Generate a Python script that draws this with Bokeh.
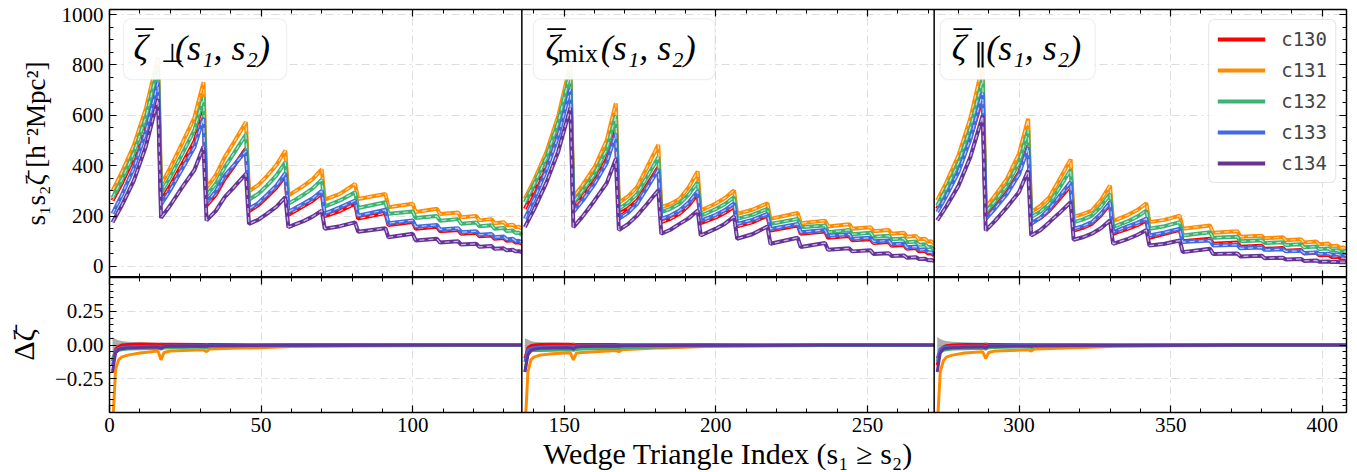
from bokeh.plotting import figure
from bokeh.models import (Range1d, LinearAxis, FixedTicker, Span, Label, Legend,
                          LegendItem, Grid, BoxAnnotation)
from bokeh.layouts import column
from bokeh.embed import file_html
from bokeh.resources import INLINE

SERIF = "Liberation Serif"
NAMES = ["c130", "c131", "c132", "c133", "c134"]
COLORS = ["#ff0000", "#ff8c00", "#3cb371", "#4169e1", "#663399"]

# key wedge-triangle indices inside one panel
KEY_X = [1, 4, 8, 12, 16, 17, 20, 24, 28, 31, 32, 35, 38, 41, 45, 46, 49, 52, 55, 58,
         59, 61, 64, 67, 70, 71, 76, 81, 82, 91, 92, 100, 101, 108, 109, 115, 116, 121,
         122, 126, 127, 130, 131, 133, 134, 135, 136]
PANEL_OFFSET = [0, 136, 272]

# ---- zeta_perp ----
PERP_C130 = [262, 329, 430, 562, 745, 262, 320, 407, 496, 619, 242, 284, 348, 398, 468,
             220, 243, 277, 312, 361, 205, 219, 240, 261, 290, 200, 220, 249,
             190, 212, 165, 177, 150, 158, 140, 145, 130, 134, 120, 123, 110, 113, 102, 104, 95, 96, 90]
PERP_C131 = [300, 372, 480, 627, 830, 325, 391, 490, 591, 731, 312, 361, 434, 492, 573,
             298, 323, 360, 402, 460, 282, 297, 320, 347, 385, 265, 288, 328,
             268, 288, 235, 249, 216, 229, 208, 214, 195, 200, 183, 188, 172, 176, 163, 166, 156, 158, 150]
PERP_C132 = [272, 343, 450, 593, 790, 293, 355, 447, 542, 672, 282, 327, 394, 449, 524,
             265, 288, 322, 361, 414, 249, 263, 285, 310, 345, 238, 262, 295,
             232, 255, 209, 218, 192, 200, 182, 188, 170, 175, 160, 164, 150, 153, 141, 143, 133, 135, 125]
PERP_C133 = [210, 282, 390, 533, 731, 246, 303, 388, 473, 590, 255, 297, 361, 402, 458,
             229, 251, 285, 321, 370, 216, 230, 250, 271, 300, 210, 235, 262,
             202, 225, 172, 183, 158, 165, 147, 152, 136, 140, 126, 129, 116, 119, 108, 110, 101, 102, 96]
PERP_C134 = [175, 241, 340, 477, 665, 193, 242, 315, 383, 476, 183, 220, 275, 314, 368,
             169, 185, 210, 237, 275, 156, 166, 180, 198, 222, 150, 160, 175,
             138, 152, 116, 130, 103, 110, 95, 100, 87, 90, 78, 81, 70, 72, 64, 66, 60, 61, 57]
# ---- zeta_mix ----
MIX_C130 = [229, 301, 410, 542, 725, 236, 278, 341, 427, 546, 209, 230, 262, 317, 394,
            176, 189, 209, 242, 288, 172, 181, 195, 213, 238, 159, 175, 202,
            143, 163, 130, 139, 114, 121, 104, 108, 93, 97, 82, 85, 70, 73, 60, 62, 52, 53, 44]
MIX_C131 = [268, 341, 450, 597, 800, 275, 323, 394, 501, 648, 253, 278, 315, 386, 483,
            235, 248, 268, 314, 377, 222, 233, 250, 272, 302, 209, 225, 251,
            189, 212, 172, 182, 159, 168, 150, 156, 140, 145, 130, 134, 118, 121, 108, 110, 98, 100, 90]
MIX_C132 = [255, 325, 430, 573, 770, 255, 300, 368, 465, 599, 229, 253, 288, 349, 434,
            216, 229, 249, 285, 335, 202, 212, 228, 248, 275, 189, 205, 229,
            169, 189, 156, 163, 136, 145, 128, 134, 118, 122, 108, 111, 96, 99, 86, 88, 76, 78, 66]
MIX_C133 = [189, 265, 380, 517, 705, 216, 261, 328, 411, 526, 189, 213, 249, 306, 384,
            189, 202, 222, 254, 299, 182, 191, 205, 224, 251, 169, 185, 209,
            149, 169, 136, 145, 123, 128, 110, 114, 100, 103, 88, 91, 76, 79, 66, 68, 56, 57, 48]
MIX_C134 = [156, 226, 330, 456, 630, 156, 198, 262, 331, 427, 145, 168, 202, 244, 302,
            130, 146, 169, 191, 222, 123, 134, 150, 170, 198, 110, 128, 159,
            90, 114, 77, 93, 66, 72, 60, 64, 50, 53, 42, 44, 35, 37, 30, 31, 25, 26, 21]
# ---- zeta_par ----
PAR_C130 = [229, 295, 395, 511, 672, 196, 236, 295, 373, 480, 172, 192, 222, 264, 321,
            143, 153, 169, 203, 249, 130, 138, 150, 164, 183, 114, 130, 146,
            100, 110, 90, 95, 78, 82, 70, 73, 62, 65, 52, 55, 45, 47, 38, 39, 33, 34, 30]
PAR_C131 = [262, 333, 440, 591, 800, 235, 280, 348, 448, 586, 216, 240, 275, 338, 425,
            198, 208, 222, 264, 321, 180, 190, 205, 224, 251, 176, 185, 202,
            150, 163, 134, 140, 118, 122, 112, 116, 104, 108, 95, 99, 88, 91, 80, 82, 74, 75, 70]
PAR_C132 = [242, 309, 410, 551, 745, 216, 258, 321, 413, 540, 196, 217, 249, 306, 384,
            176, 186, 202, 238, 288, 156, 166, 180, 198, 222, 150, 160, 176,
            123, 136, 114, 118, 100, 104, 93, 96, 85, 88, 76, 79, 69, 71, 63, 64, 59, 60, 57]
PAR_C133 = [216, 280, 375, 507, 690, 189, 229, 288, 366, 473, 169, 193, 229, 274, 335,
            149, 160, 176, 209, 255, 136, 146, 160, 173, 190, 123, 135, 150,
            97, 103, 83, 86, 72, 75, 66, 68, 60, 62, 54, 56, 50, 51, 47, 48, 45, 45, 44]
PAR_C134 = [183, 238, 320, 437, 599, 143, 180, 235, 296, 381, 123, 144, 176, 209, 255,
            106, 116, 130, 152, 183, 90, 98, 110, 125, 145, 83, 90, 103,
            57, 70, 50, 52, 40, 43, 33, 35, 28, 30, 22, 24, 19, 20, 18, 18, 17, 17, 17]

# ---- residuals (bottom panel) ----
RES_X = [1, 2, 3, 4, 6, 10, 16, 17, 18, 20, 31, 32, 33, 46, 47, 60, 80, 100, 136]
R1_C130 = [-0.12, -0.03, -0.01, 0.0, 0.004, 0.007, 0.006, 0.002, 0.005, 0.005, 0.004, 0.002, 0.003, 0.002, 0.002, 0.001, 0.001, 0.0, 0.0]
R1_C131 = [-0.62, -0.18, -0.11, -0.09, -0.075, -0.06, -0.045, -0.11, -0.055, -0.045, -0.035, -0.05, -0.03, -0.02, -0.022, -0.012, -0.008, -0.005, -0.002]
R1_C132 = [-0.10, -0.05, -0.04, -0.035, -0.03, -0.028, -0.025, -0.03, -0.022, -0.02, -0.015, -0.02, -0.013, -0.01, -0.01, -0.006, -0.004, -0.002, -0.001]
R1_C133 = [-0.15, -0.04, -0.025, -0.02, -0.015, -0.012, -0.01, -0.015, -0.008, -0.007, -0.005, -0.007, -0.004, -0.003, -0.003, -0.002, -0.001, 0.0, 0.0]
R1_C134 = [-0.20, -0.06, -0.035, -0.028, -0.022, -0.018, -0.015, -0.025, -0.012, -0.01, -0.008, -0.01, -0.006, -0.004, -0.004, -0.002, -0.001, 0.0, 0.0]
BAND1 = [0.06, 0.045, 0.035, 0.03, 0.025, 0.02, 0.015, 0.022, 0.015, 0.012, 0.01, 0.014, 0.009, 0.007, 0.008, 0.005, 0.004, 0.003, 0.002]
R2_C130 = [-0.10, -0.02, -0.005, 0.0, 0.003, 0.006, 0.005, 0.0, 0.004, 0.004, 0.003, 0.001, 0.002, 0.001, 0.001, 0.001, 0.0, 0.0, 0.0]
R2_C131 = [-0.65, -0.20, -0.11, -0.09, -0.075, -0.065, -0.058, -0.11, -0.06, -0.055, -0.04, -0.05, -0.035, -0.02, -0.022, -0.012, -0.006, -0.004, -0.002]
R2_C132 = [-0.20, -0.05, -0.045, -0.04, -0.04, -0.038, -0.035, -0.04, -0.033, -0.03, -0.025, -0.028, -0.02, -0.015, -0.015, -0.008, -0.005, -0.003, -0.001]
R2_C133 = [-0.125, -0.035, -0.025, -0.02, -0.015, -0.012, -0.01, -0.015, -0.008, -0.007, -0.005, -0.007, -0.004, -0.003, -0.003, -0.002, -0.001, 0.0, 0.0]
R2_C134 = [-0.20, -0.075, -0.04, -0.032, -0.025, -0.022, -0.02, -0.03, -0.015, -0.012, -0.008, -0.01, -0.006, -0.004, -0.004, -0.002, -0.001, 0.0, 0.0]
BAND2 = [0.05, 0.04, 0.03, 0.025, 0.02, 0.018, 0.014, 0.02, 0.013, 0.011, 0.009, 0.012, 0.008, 0.006, 0.007, 0.005, 0.004, 0.003, 0.002]
R3_C130 = [-0.15, -0.04, -0.015, -0.005, 0.0, 0.004, 0.004, 0.0, 0.003, 0.003, 0.002, 0.001, 0.002, 0.001, 0.001, 0.0, 0.0, 0.0, 0.0]
R3_C131 = [-0.62, -0.20, -0.12, -0.09, -0.075, -0.06, -0.05, -0.10, -0.055, -0.045, -0.035, -0.045, -0.03, -0.02, -0.02, -0.01, -0.006, -0.004, -0.002]
R3_C132 = [-0.12, -0.05, -0.04, -0.035, -0.03, -0.027, -0.024, -0.03, -0.02, -0.018, -0.014, -0.018, -0.012, -0.009, -0.009, -0.005, -0.003, -0.002, -0.001]
R3_C133 = [-0.10, -0.03, -0.02, -0.015, -0.012, -0.01, -0.008, -0.012, -0.006, -0.005, -0.004, -0.005, -0.003, -0.002, -0.002, -0.001, 0.0, 0.0, 0.0]
R3_C134 = [-0.20, -0.06, -0.03, -0.025, -0.02, -0.017, -0.014, -0.022, -0.01, -0.009, -0.007, -0.009, -0.005, -0.003, -0.003, -0.002, -0.001, 0.0, 0.0]
BAND3 = [0.06, 0.045, 0.035, 0.03, 0.025, 0.02, 0.016, 0.022, 0.015, 0.012, 0.01, 0.013, 0.009, 0.007, 0.008, 0.005, 0.004, 0.003, 0.002]

TOP_PANELS = [[PERP_C130, PERP_C131, PERP_C132, PERP_C133, PERP_C134],
              [MIX_C130, MIX_C131, MIX_C132, MIX_C133, MIX_C134],
              [PAR_C130, PAR_C131, PAR_C132, PAR_C133, PAR_C134]]
RES_PANELS = [[R1_C130, R1_C131, R1_C132, R1_C133, R1_C134],
              [R2_C130, R2_C131, R2_C132, R2_C133, R2_C134],
              [R3_C130, R3_C131, R3_C132, R3_C133, R3_C134]]
BANDS = [BAND1, BAND2, BAND3]

X_TICKS = [0, 50, 100, 150, 200, 250, 300, 350, 400]
Y_TICKS = [0, 200, 400, 600, 800, 1000]
R_TICKS = [-0.25, 0.0, 0.25]

x_ticker = FixedTicker(ticks=X_TICKS, minor_ticks=list(range(0, 409, 10)))
y_ticker = FixedTicker(ticks=Y_TICKS, minor_ticks=list(range(0, 1001, 50)))
r_ticker = FixedTicker(ticks=R_TICKS, minor_ticks=[round(-0.45 + 0.05 * i, 2) for i in range(19)])

LEFT = 109
FRAME_W = 1237


def make_axis(ticker, labels, overrides=None):
    ax = LinearAxis(ticker=ticker)
    ax.major_tick_in = 7
    ax.major_tick_out = 0
    ax.minor_tick_in = 4
    ax.minor_tick_out = 0
    ax.axis_line_width = 1.3
    ax.major_tick_line_width = 1.2
    ax.minor_tick_line_width = 1.0
    ax.axis_line_color = "black"
    ax.major_tick_line_color = "black"
    ax.minor_tick_line_color = "black"
    if labels:
        ax.major_label_text_font = SERIF
        ax.major_label_text_font_size = "21px"
        ax.major_label_text_color = "black"
        ax.major_label_standoff = 6
        if overrides:
            ax.major_label_overrides = overrides
    else:
        ax.major_label_text_font_size = "0px"
        ax.major_label_standoff = 0
        ax.major_label_text_alpha = 0
    ax.axis_label_text_font = SERIF
    ax.axis_label_text_font_style = "normal"
    ax.axis_label_text_color = "black"
    return ax


def add_grid(p, yt):
    p.add_layout(Grid(dimension=0, ticker=x_ticker, grid_line_color="#dddddd",
                      grid_line_dash="8 4 2 4", grid_line_width=1))
    p.add_layout(Grid(dimension=1, ticker=yt, grid_line_color="#dddddd",
                      grid_line_dash="8 4 2 4", grid_line_width=1))


# ------------------- top figure -------------------
p1 = figure(frame_width=FRAME_W, frame_height=268, x_range=Range1d(0, 408),
            y_range=Range1d(-43.7, 1020), x_axis_type=None, y_axis_type=None,
            output_backend="svg", toolbar_location=None,
            min_border_left=LEFT, min_border_right=8, min_border_top=9, min_border_bottom=0,
            outline_line_color="black", outline_line_width=1.2)
add_grid(p1, y_ticker)
ax = make_axis(y_ticker, True)
ax.axis_label = "s\u2081s\u2082\u03b6\u0304 [h\u207b\u00b2Mpc\u00b2]"
ax.axis_label_text_font_size = "27px"
ax.axis_label_standoff = 8
p1.add_layout(ax, "left")
p1.add_layout(make_axis(y_ticker, False), "right")
p1.add_layout(make_axis(x_ticker, False), "above")
p1.add_layout(make_axis(x_ticker, False), "below")

legend_items = []
for pi, series in enumerate(TOP_PANELS):
    xs = [k + PANEL_OFFSET[pi] for k in KEY_X]
    for si, ys in enumerate(series):
        r = p1.line(xs, ys, line_color=COLORS[si], line_width=4)
        p1.line(xs, ys, line_color="white", line_width=1.2, line_dash="5 4", line_alpha=0.65)
        if pi == 0:
            legend_items.append(LegendItem(label=NAMES[si], renderers=[r]))

for loc in (136, 272):
    p1.add_layout(Span(location=loc, dimension="height", line_color="black", line_width=1.5))

# panel title boxes
BOXES = [(4.6, 58.4), (139.8, 199.7), (274.0, 325.1)]
TITLE_SUB = ["\u22a5", "mix", "\u2225"]
TITLE_X = [(7.9, 8.6, 17.0, 21.6), (143.8, 144.5, 147.8, 162.0), (277.8, 278.5, 285.2, 289.2)]
for (bl, br), sub, (zx, mx, sx, px) in zip(BOXES, TITLE_SUB, TITLE_X):
    p1.add_layout(BoxAnnotation(left=bl, right=br, top=984, bottom=742, fill_color="white",
                                fill_alpha=0.92, line_color="#cccccc", line_width=1.3,
                                border_radius=8))
    p1.add_layout(Label(x=zx, y=869, text="\u03b6", text_font=SERIF, text_font_size="36px",
                        text_font_style="italic", text_baseline="alphabetic", text_color="black"))
    p1.add_layout(Label(x=mx, y=882, text="\u00af", text_font=SERIF, text_font_size="36px",
                        text_baseline="alphabetic", text_color="black"))
    p1.add_layout(Label(x=sx, y=847, text=sub, text_font=SERIF, text_font_size="26px",
                        text_baseline="alphabetic", text_color="black"))
    p1.add_layout(Label(x=px, y=869, text="(s\u2081, s\u2082)", text_font=SERIF,
                        text_font_size="36px", text_font_style="italic",
                        text_baseline="alphabetic", text_color="black"))

legend = Legend(items=legend_items, location="top_right")
legend.label_text_font = "DejaVu Sans Mono"
legend.label_text_font_size = "19px"
legend.glyph_width = 48
legend.glyph_height = 20
legend.label_height = 20
legend.spacing = 9
legend.padding = 8
legend.margin = 10
legend.label_standoff = 16
legend.border_line_color = "#cccccc"
legend.border_line_width = 1.3
legend.background_fill_alpha = 0.9
try:
    legend.border_radius = 6
except Exception:
    pass
p1.add_layout(legend)

# ------------------- bottom figure -------------------
p2 = figure(frame_width=FRAME_W, height=195, x_range=p1.x_range, y_range=Range1d(-0.5, 0.5),
            x_axis_type=None, y_axis_type=None, output_backend="svg", toolbar_location=None,
            min_border_left=LEFT, min_border_right=8, min_border_top=0, min_border_bottom=0,
            outline_line_color="black", outline_line_width=1.2)
add_grid(p2, r_ticker)
ax2 = make_axis(r_ticker, True, {-0.25: "\u22120.25", 0.0: "0.00", 0.25: "0.25"})
ax2.axis_label = "\u0394\u03b6\u0304"
ax2.axis_label_text_font_size = "30px"
ax2.axis_label_standoff = 12
p2.add_layout(ax2, "left")
p2.add_layout(make_axis(r_ticker, False), "right")
p2.add_layout(make_axis(x_ticker, False), "above")
axb = make_axis(x_ticker, True)
axb.major_label_standoff = 5
axb.axis_label = "Wedge Triangle Index (s\u2081 \u2265 s\u2082)"
axb.axis_label_text_font_size = "30px"
axb.axis_label_standoff = 2
p2.add_layout(axb, "below")

for pi in range(3):
    xs = [k + PANEL_OFFSET[pi] for k in RES_X]
    band = BANDS[pi]
    p2.varea(x=xs, y1=[-h for h in band], y2=band, fill_color="#999999", fill_alpha=0.8)
    for si, ys in enumerate(RES_PANELS[pi]):
        p2.line(xs, ys, line_color=COLORS[si], line_width=3)

for loc in (136, 272):
    p2.add_layout(Span(location=loc, dimension="height", line_color="black", line_width=1.5))

layout = column(p1, p2)
open("out.html", "w").write(file_html(layout, INLINE))
